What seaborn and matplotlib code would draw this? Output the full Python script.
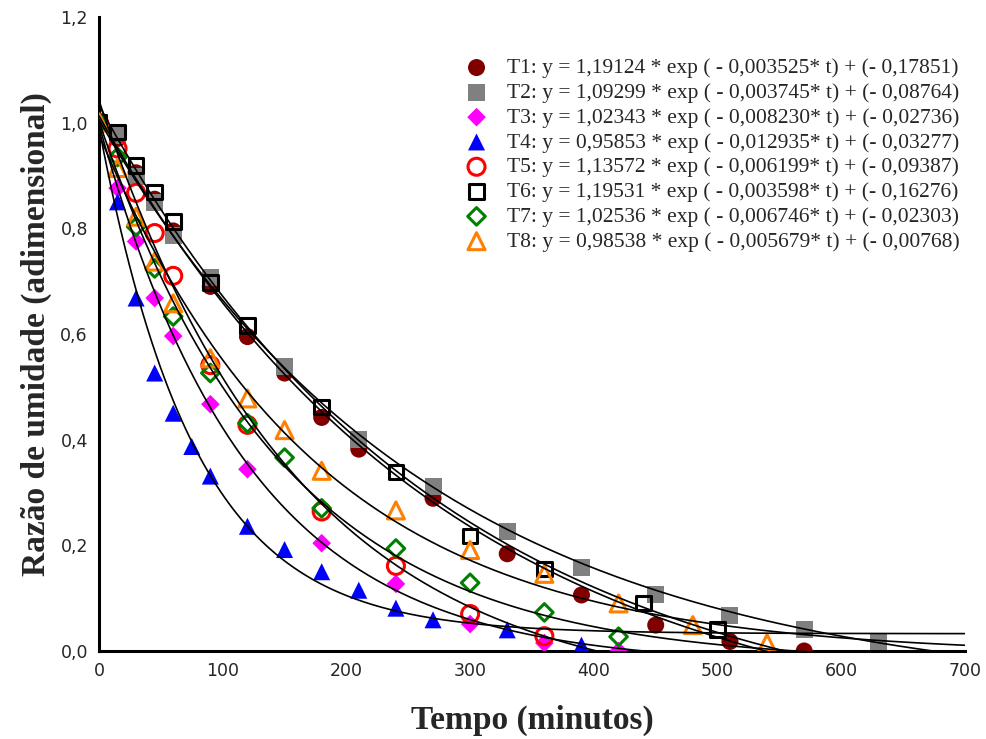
import numpy as np
import pandas as pd
import matplotlib
matplotlib.use('Agg')
import matplotlib.pyplot as plt
from matplotlib.ticker import FuncFormatter
import seaborn as sns

# Measured moisture ratio for each treatment
t1_t = [0, 15, 30, 45, 60, 90, 120, 150, 180, 210, 270, 330, 390, 450, 510, 570]
t1_y = [1.0, 0.97, 0.905, 0.855, 0.795, 0.69, 0.595, 0.526, 0.442, 0.382, 0.289, 0.184, 0.106, 0.049, 0.018, 0.0]
t2_t = [0, 15, 30, 45, 60, 90, 150, 210, 270, 330, 390, 450, 510, 570, 630]
t2_y = [1.0, 0.975, 0.898, 0.848, 0.787, 0.706, 0.538, 0.401, 0.311, 0.226, 0.158, 0.106, 0.068, 0.041, 0.018]
t3_t = [0, 15, 30, 45, 60, 90, 120, 180, 240, 300, 360, 420]
t3_y = [1.0, 0.876, 0.775, 0.668, 0.596, 0.467, 0.344, 0.204, 0.127, 0.051, 0.015, 0.0]
t4_t = [0, 15, 30, 45, 60, 75, 90, 120, 150, 180, 210, 240, 270, 330, 390]
t4_y = [1.0, 0.85, 0.668, 0.526, 0.45, 0.387, 0.331, 0.236, 0.192, 0.15, 0.115, 0.081, 0.059, 0.04, 0.011]
t5_t = [0, 15, 30, 45, 60, 90, 120, 180, 240, 300, 360]
t5_y = [1.0, 0.951, 0.867, 0.791, 0.71, 0.541, 0.428, 0.264, 0.161, 0.07, 0.028]
t6_t = [0, 15, 30, 45, 60, 90, 120, 180, 240, 300, 360, 440, 500]
t6_y = [1.0, 0.982, 0.919, 0.869, 0.813, 0.697, 0.616, 0.462, 0.339, 0.218, 0.155, 0.091, 0.041]
t7_t = [0, 15, 30, 45, 60, 90, 120, 150, 180, 240, 300, 360, 420]
t7_y = [1.0, 0.935, 0.803, 0.724, 0.633, 0.526, 0.431, 0.366, 0.27, 0.194, 0.129, 0.073, 0.027]
t8_t = [0, 15, 30, 45, 60, 90, 120, 150, 180, 240, 300, 360, 420, 480, 540]
t8_y = [1.0, 0.914, 0.822, 0.737, 0.658, 0.554, 0.478, 0.418, 0.341, 0.266, 0.191, 0.146, 0.09, 0.049, 0.015]

# fitted model y = a * exp(-k t) + c (as drawn)
fit_a = [1.19124, 1.09299, 1.02343, 0.95853, 1.13572, 1.19531, 1.02536, 0.98538]
fit_k = [0.003525, 0.003745, 0.008230, 0.012935, 0.006199, 0.003598, 0.006746, 0.005679]
fit_c = [-0.17851, -0.08764, -0.02736, 0.03277, -0.09387, -0.16276, -0.02303, -0.00768]

labels = [
    'T1: y = 1,19124 * exp ( - 0,003525* t) + (- 0,17851)',
    'T2: y = 1,09299 * exp ( - 0,003745* t) + (- 0,08764)',
    'T3: y = 1,02343 * exp ( - 0,008230* t) + (- 0,02736)',
    'T4: y = 0,95853 * exp ( - 0,012935* t) + (- 0,03277)',
    'T5: y = 1,13572 * exp ( - 0,006199* t) + (- 0,09387)',
    'T6: y = 1,19531 * exp ( - 0,003598* t) + (- 0,16276)',
    'T7: y = 1,02536 * exp ( - 0,006746* t) + (- 0,02303)',
    'T8: y = 0,98538 * exp ( - 0,005679* t) + (- 0,00768)',
]

series_t = [t1_t, t2_t, t3_t, t4_t, t5_t, t6_t, t7_t, t8_t]
series_y = [t1_y, t2_y, t3_y, t4_y, t5_y, t6_y, t7_y, t8_y]
colors = ['#800000', '#808080', '#ff00ff', '#0000ff', '#ff0000', '#000000', '#008000', '#ff8000']
markers = ['o', 's', 'D', '^', 'o', 's', 'D', '^']
filled = [True, True, True, True, False, False, False, False]
sizes = [150, 150, 90, 150, 150, 110, 80, 150]

sns.set_style('white')
plt.rcParams['font.family'] = ['DejaVu Sans']

fig = plt.figure(figsize=(9.87, 7.39), dpi=100)
ax = fig.add_axes([0.1003, 0.1191, 0.8774, 0.858])

for i in range(8):
    df = pd.DataFrame({'t': series_t[i], 'y': series_y[i]})
    if filled[i]:
        sns.scatterplot(data=df, x='t', y='y', ax=ax, marker=markers[i], s=sizes[i],
                        color=colors[i], edgecolor='none', linewidth=0,
                        label=labels[i], zorder=3 + i)
    else:
        sns.scatterplot(data=df, x='t', y='y', ax=ax, marker=markers[i], s=sizes[i],
                        facecolor='none', edgecolor=colors[i], linewidth=2.2,
                        label=labels[i], zorder=3 + i)

tt = np.linspace(0, 700, 400)
for a, k, c in zip(fit_a, fit_k, fit_c):
    curve = pd.DataFrame({'t': tt, 'y': a * np.exp(-k * tt) + c})
    sns.lineplot(data=curve, x='t', y='y', ax=ax, color='black', linewidth=1.2,
                 legend=False, zorder=20)

ax.set_xlim(0, 700)
ax.set_ylim(0, 1.2)
ax.set_xticks(np.arange(0, 701, 100))
ax.set_yticks(np.arange(0, 1.21, 0.2))
ax.yaxis.set_major_formatter(FuncFormatter(lambda v, p: f'{v:.1f}'.replace('.', ',')))
ax.tick_params(direction='in', length=6, width=1.5, labelsize=12.5, pad=8)

for side in ['top', 'right']:
    ax.spines[side].set_visible(False)
for side in ['left', 'bottom']:
    ax.spines[side].set_linewidth(2.2)
    ax.spines[side].set_color('black')

ax.set_xlabel('Tempo (minutos)', family='Liberation Serif', fontweight='bold',
              fontsize=24, labelpad=18)
ax.set_ylabel('Razão de umidade (adimensional)', family='Liberation Serif',
              fontweight='bold', fontsize=24, labelpad=6)

leg = ax.legend(loc='upper right', bbox_to_anchor=(1.006, 0.952), frameon=False,
                prop={'family': 'Liberation Serif', 'size': 15.5},
                labelspacing=0.22, handletextpad=0.4, borderpad=0,
                scatterpoints=1)

fig.savefig('out.png', dpi=100)
